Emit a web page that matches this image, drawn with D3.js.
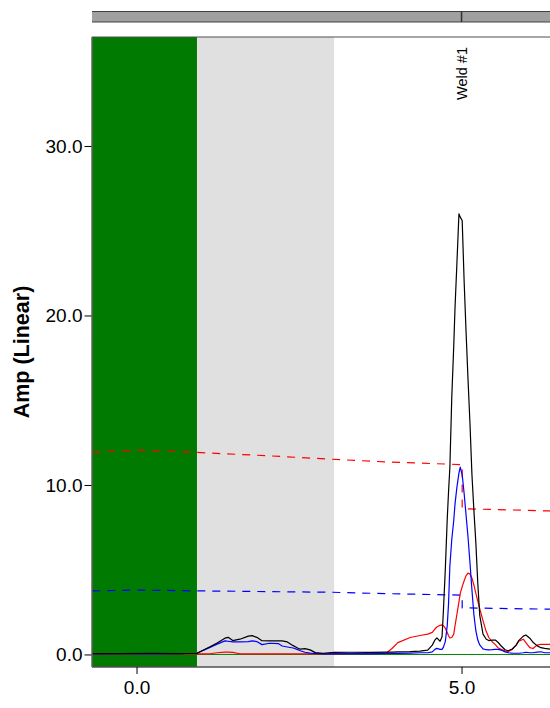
<!DOCTYPE html>
<html>
<head>
<meta charset="utf-8">
<script src="https://cdnjs.cloudflare.com/ajax/libs/d3/7.8.5/d3.min.js"></script>
<style>
  body { margin: 0; background: #fff; }
  svg { display: block; font-family: "Liberation Sans", Arial, sans-serif; }
  .axis .domain { display: none; }
  .axis line { stroke: #000; }
  .axis text { fill: #000; font-size: 19px; }
</style>
</head>
<body>
<div id="chart"></div>
<script>
// sample positions along the scan (same units as the x axis)
var distance = [-0.68, -0.25, 0.21, 0.67, 0.93, 1.13, 1.24, 1.36, 1.41, 1.48,
  1.59, 1.72, 1.78, 1.85, 1.93, 2.05, 2.18, 2.24, 2.32, 2.41,
  2.47, 2.52, 2.59, 2.67, 2.75, 2.87, 3.04, 3.28, 3.59, 3.85,
  3.93, 4.02, 4.21, 4.36, 4.48, 4.55, 4.59, 4.62, 4.67, 4.70,
  4.72, 4.75, 4.78, 4.80, 4.82, 4.85, 4.88, 4.90, 4.93, 4.96,
  4.98, 5.01, 5.04, 5.07, 5.10, 5.13, 5.16, 5.19, 5.22, 5.25,
  5.28, 5.33, 5.38, 5.42, 5.47, 5.52, 5.56, 5.61, 5.67, 5.72,
  5.78, 5.84, 5.88, 5.95, 5.99, 6.05, 6.10, 6.16, 6.22, 6.28,
  6.36, 6.52];

var ampBlack = [0.05, 0.05, 0.06, 0.05, 0.07, 0.45, 0.68, 0.96, 1.01, 0.82,
  0.90, 1.08, 1.11, 1.01, 0.81, 0.80, 0.81, 0.80, 0.74, 0.52,
  0.40, 0.31, 0.34, 0.27, 0.11, 0.07, 0.12, 0.13, 0.12, 0.14,
  0.14, 0.15, 0.17, 0.20, 0.25, 0.55, 0.85, 0.98, 0.78, 1.05,
  2.5, 5.0, 8.0, 9.6, 11.0, 15.2, 18.2, 20.5, 23.2, 26.0,
  25.8, 25.6, 22.0, 19.0, 16.2, 13.6, 10.6, 8.5, 6.6, 4.2,
  2.3, 1.2, 0.90, 0.82, 0.84, 0.85, 0.72, 0.50, 0.28, 0.22,
  0.32, 0.55, 0.82, 1.08, 1.15, 0.96, 0.72, 0.52, 0.40, 0.36,
  0.32, 0.30];

var ampBlue = [0.04, 0.05, 0.04, 0.05, 0.07, 0.42, 0.61, 0.80, 0.78, 0.74,
  0.74, 0.76, 0.80, 0.76, 0.58, 0.66, 0.64, 0.50, 0.44, 0.38,
  0.30, 0.22, 0.13, 0.08, 0.06, 0.03, 0.04, 0.05, 0.04, 0.06,
  0.06, 0.06, 0.08, 0.10, 0.10, 0.15, 0.30, 0.36, 0.30, 0.30,
  0.42, 0.76, 1.70, 3.0, 5.2, 6.8, 7.9, 8.9, 9.9, 10.7,
  11.05, 10.6, 9.5, 8.2, 6.9, 5.4, 3.8, 2.35, 1.4, 0.85,
  0.56, 0.33, 0.28, 0.27, 0.28, 0.30, 0.30, 0.26, 0.15, 0.10,
  0.08, 0.07, 0.07, 0.10, 0.13, 0.10, 0.10, 0.14, 0.16, 0.10,
  0.10, 0.10];

var ampRed = [0.02, 0.03, 0.03, 0.03, 0.04, 0.04, 0.10, 0.14, 0.14, 0.12,
  0.04, 0.04, 0.04, 0.04, 0.04, 0.04, 0.04, 0.04, 0.04, 0.04,
  0.04, 0.04, 0.04, 0.04, 0.04, 0.04, 0.05, 0.05, 0.06, 0.10,
  0.35, 0.70, 1.00, 1.12, 1.20, 1.30, 1.50, 1.62, 1.72, 1.74,
  1.70, 1.55, 1.30, 1.10, 0.97, 1.00, 1.20, 1.70, 2.40, 3.10,
  3.60, 4.00, 4.35, 4.65, 4.80, 4.75, 4.50, 4.10, 3.60, 3.15,
  2.70, 2.00, 1.35, 1.00, 0.75, 0.58, 0.40, 0.30, 0.20, 0.18,
  0.30, 0.55, 0.78, 0.90, 0.70, 0.40, 0.35, 0.55, 0.60, 0.60,
  0.60, 0.60];

// reference (DAC) curves
var dacRedX = [-0.68, 0.03, 0.75, 1.98, 3.00, 3.82, 5.01, 5.01, 6.52];
var dacRedY = [11.93, 12.05, 11.95, 11.73, 11.52, 11.36, 11.2, 8.6, 8.45];
var dacBlueX = [-0.68, 0.03, 0.95, 3.00, 3.82, 5.01, 5.01, 6.52];
var dacBlueY = [3.75, 3.8, 3.75, 3.67, 3.59, 3.5, 2.75, 2.66];

// shaded zones
var zoneStart = [-0.685, 0.93];
var zoneEnd = [0.93, 3.04];
var zoneColor = ["#007a00", "#e0e0e0"];

// weld markers
var weldNames = ["Weld #1"];
var weldPos = [5.0];

var xTicks = [0, 5];
var yTicks = [0, 10, 20, 30];

var W = 550, H = 708,
    plot = {left: 92, right: 600, top: 37, bottom: 667};

var x = d3.scaleLinear()
    .domain([-0.685, 7.13])
    .range([plot.left, plot.right]);

var y = d3.scaleLinear()
    .domain([-0.74, 36.43])
    .range([plot.bottom, plot.top]);

var svg = d3.select("#chart").append("svg")
    .attr("width", W)
    .attr("height", H);

svg.append("clipPath").attr("id", "clip")
  .append("rect")
    .attr("x", plot.left).attr("y", plot.top)
    .attr("width", plot.right - plot.left).attr("height", plot.bottom - plot.top);

// top position bar
svg.append("rect")
    .attr("x", plot.left).attr("y", 11.5)
    .attr("width", plot.right - plot.left).attr("height", 10.5)
    .attr("fill", "#a0a0a0");
svg.selectAll(".barEdge")
    .data([11.5, 22])
  .enter().append("line")
    .attr("x1", plot.left).attr("x2", plot.right)
    .attr("y1", function(d) { return d; }).attr("y2", function(d) { return d; })
    .attr("stroke", "#404040").attr("stroke-width", 1.2);
svg.selectAll(".weldTick")
    .data(weldPos)
  .enter().append("line")
    .attr("x1", function(d) { return x(d); }).attr("x2", function(d) { return x(d); })
    .attr("y1", 11.5).attr("y2", 22)
    .attr("stroke", "#303030").attr("stroke-width", 1.5);

var g = svg.append("g").attr("clip-path", "url(#clip)");

g.selectAll(".zone")
    .data(zoneStart)
  .enter().append("rect")
    .attr("x", function(d) { return x(d); })
    .attr("y", plot.top)
    .attr("width", function(d, i) { return x(zoneEnd[i]) - x(d); })
    .attr("height", plot.bottom - plot.top)
    .attr("fill", function(d, i) { return zoneColor[i]; });

// zero line
g.append("line")
    .attr("x1", plot.left).attr("x2", plot.right)
    .attr("y1", y(0)).attr("y2", y(0))
    .attr("stroke", "#008000").attr("stroke-width", 1);

var line = d3.line()
    .x(function(d) { return x(d[0]); })
    .y(function(d) { return y(d[1]); });

g.append("path")
    .attr("d", line(d3.zip(dacRedX, dacRedY)))
    .attr("fill", "none").attr("stroke", "#ff0000")
    .attr("stroke-width", 1.2).attr("stroke-dasharray", "8,7");
g.append("path")
    .attr("d", line(d3.zip(dacBlueX, dacBlueY)))
    .attr("fill", "none").attr("stroke", "#0000ff")
    .attr("stroke-width", 1.2).attr("stroke-dasharray", "8,7");

[[ampRed, "#ff0000"], [ampBlue, "#0000ff"], [ampBlack, "#000000"]].forEach(function(s) {
  g.append("path")
      .attr("d", line(d3.zip(distance, s[0])))
      .attr("fill", "none")
      .attr("stroke", s[1])
      .attr("stroke-width", 1.2)
      .attr("stroke-linejoin", "round");
});

// weld labels
svg.selectAll(".weldLabel")
    .data(weldNames)
  .enter().append("text")
    .attr("transform", function(d, i) { return "translate(" + (x(weldPos[i]) + 5) + ",47) rotate(-90)"; })
    .attr("text-anchor", "end")
    .attr("font-size", "14.5px")
    .text(function(d) { return d; });

// frame
svg.append("line")
    .attr("x1", plot.left).attr("x2", plot.right)
    .attr("y1", plot.top).attr("y2", plot.top)
    .attr("stroke", "#505050").attr("stroke-width", 1);
svg.append("line")
    .attr("x1", plot.left).attr("x2", plot.right)
    .attr("y1", plot.bottom).attr("y2", plot.bottom)
    .attr("stroke", "#505050").attr("stroke-width", 1.5);
svg.append("line")
    .attr("x1", plot.left).attr("x2", plot.left)
    .attr("y1", plot.top).attr("y2", plot.bottom)
    .attr("stroke", "#606060").attr("stroke-width", 1.5);

// axes
svg.append("g")
    .attr("class", "axis")
    .attr("transform", "translate(" + (plot.left - 0.5) + ",0)")
    .call(d3.axisLeft(y).tickValues(yTicks).tickFormat(d3.format(".1f")).tickSize(7).tickPadding(2));

svg.append("g")
    .attr("class", "axis")
    .attr("transform", "translate(0," + plot.bottom + ")")
    .call(d3.axisBottom(x).tickValues(xTicks).tickFormat(d3.format(".1f")).tickSize(7).tickPadding(7));

svg.append("text")
    .attr("transform", "translate(29," + ((plot.top + plot.bottom) / 2) + ") rotate(-90)")
    .attr("text-anchor", "middle")
    .attr("font-size", "21.5px")
    .attr("font-weight", "bold")
    .text("Amp (Linear)");
</script>
</body>
</html>
